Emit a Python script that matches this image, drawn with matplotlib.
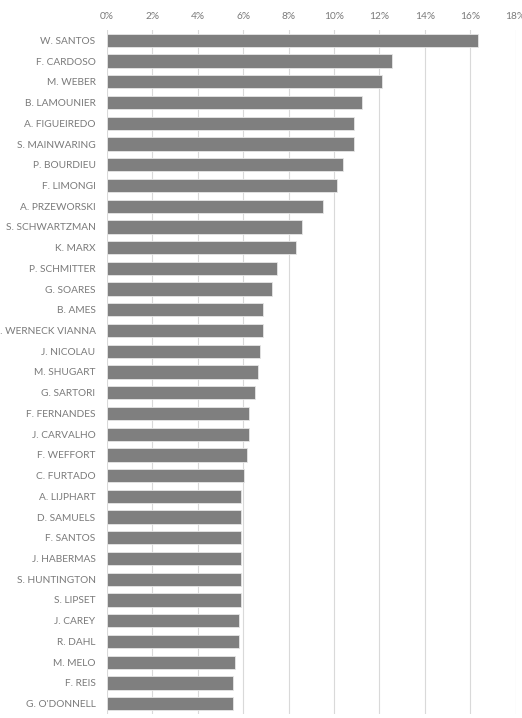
import matplotlib
matplotlib.use("Agg")
import matplotlib.pyplot as plt
from matplotlib.ticker import FuncFormatter, MultipleLocator

names = ["W. SANTOS", "F. CARDOSO", "M. WEBER", "B. LAMOUNIER", "A. FIGUEIREDO",
         "S. MAINWARING", "P. BOURDIEU", "F. LIMONGI", "A. PRZEWORSKI",
         "S. SCHWARTZMAN", "K. MARX", "P. SCHMITTER", "G. SOARES", "B. AMES",
         "L. WERNECK VIANNA", "J. NICOLAU", "M. SHUGART", "G. SARTORI",
         "F. FERNANDES", "J. CARVALHO", "F. WEFFORT", "C. FURTADO", "A. LIJPHART",
         "D. SAMUELS", "F. SANTOS", "J. HABERMAS", "S. HUNTINGTON", "S. LIPSET",
         "J. CAREY", "R. DAHL", "M. MELO", "F. REIS", "G. O'DONNELL"]
values = [16.34, 12.57, 12.10, 11.25, 10.88, 10.88, 10.40, 10.15, 9.53,
          8.58, 8.33, 7.47, 7.25, 6.87, 6.87, 6.75, 6.64, 6.50,
          6.26, 6.26, 6.15, 6.04, 5.90, 5.90, 5.90, 5.90, 5.90, 5.90,
          5.80, 5.80, 5.65, 5.55, 5.55]
values = [v / 100 for v in values]

plt.rcParams['font.family'] = ['Lato', 'DejaVu Sans']

fig = plt.figure(figsize=(5.22, 7.18), dpi=100)
ax = fig.add_axes([0.205, 0.0056, 0.7827, 0.9526])

ypos = list(range(len(names)))
ax.barh(ypos, values, height=0.64, color="#7f7f7f", edgecolor="#e6e6e6",
        linewidth=0.6, zorder=3)
ax.set_ylim(len(names) - 0.5, -0.5)
ax.set_yticks(ypos)
ax.set_yticklabels(names)
ax.set_xlim(0, 0.18)
ax.xaxis.set_major_locator(MultipleLocator(0.02))
ax.xaxis.set_major_formatter(FuncFormatter(lambda x, p: f"{x*100:.0f}%"))
ax.xaxis.tick_top()
ax.grid(axis="x", color="#d9d9d9", linewidth=0.8, zorder=0)
ax.set_axisbelow(True)
for s in ax.spines.values():
    s.set_visible(False)
ax.tick_params(axis="both", length=0, labelsize=7.3, labelcolor="#7a7a7a")
ax.tick_params(axis="y", pad=8.2)
ax.tick_params(axis="x", pad=6.4)

fig.savefig("out.png", dpi=100)
